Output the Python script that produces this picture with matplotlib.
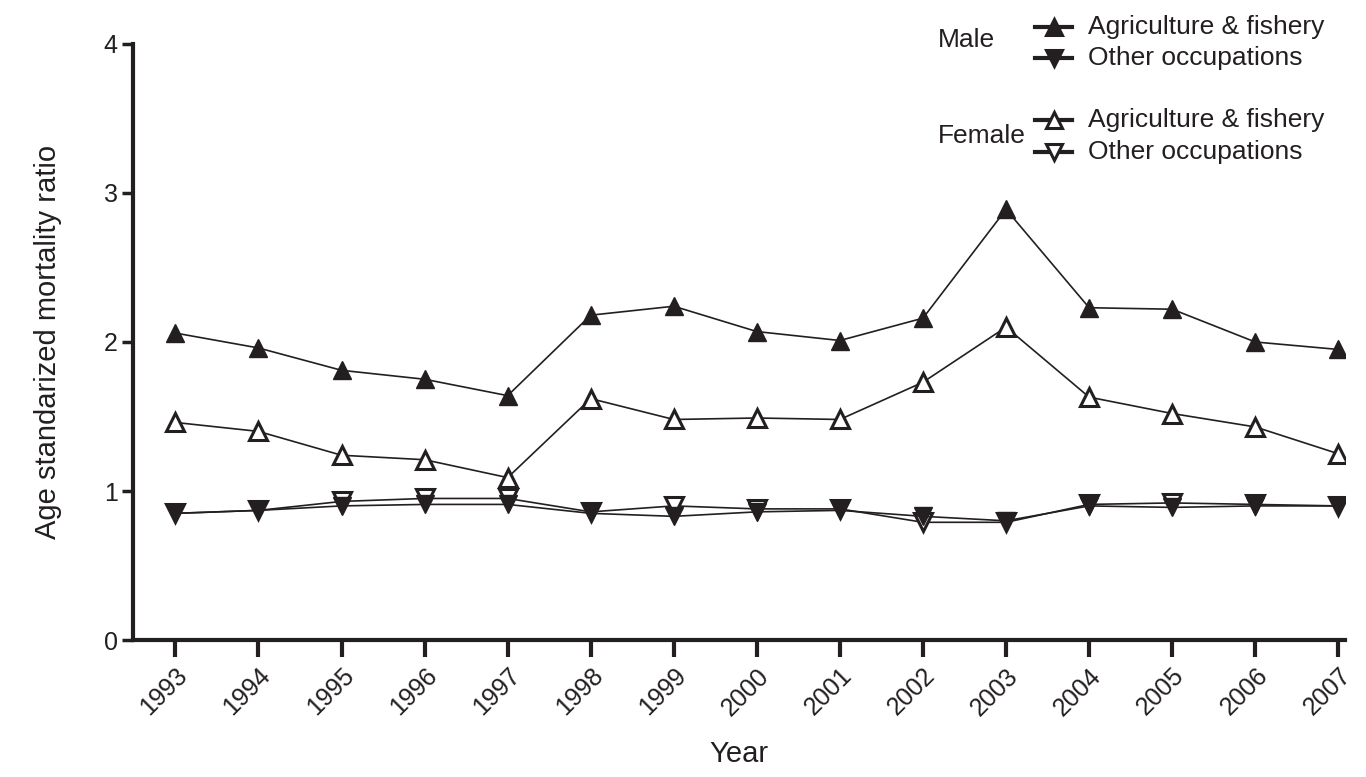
import matplotlib.pyplot as plt
from matplotlib.lines import Line2D

plt.rcParams['font.family'] = ['Liberation Sans', 'DejaVu Sans']

years = list(range(1993, 2008))
male_agri = [2.06, 1.96, 1.81, 1.75, 1.64, 2.18, 2.24, 2.07, 2.01, 2.16, 2.89, 2.23, 2.22, 2.00, 1.95]
male_other = [0.85, 0.87, 0.90, 0.91, 0.91, 0.85, 0.83, 0.86, 0.87, 0.83, 0.80, 0.90, 0.89, 0.90, 0.90]
female_agri = [1.46, 1.40, 1.24, 1.21, 1.09, 1.62, 1.48, 1.49, 1.48, 1.73, 2.10, 1.63, 1.52, 1.43, 1.25]
female_other = [0.85, 0.87, 0.93, 0.95, 0.95, 0.86, 0.90, 0.88, 0.88, 0.79, 0.79, 0.91, 0.92, 0.91, 0.90]

ink = "#231f20"

fig = plt.figure(figsize=(13.66, 7.77), dpi=100)
ax = fig.add_axes([0.0974, 0.1763, 0.8872, 0.7671])

ms = 13.5
ax.plot(years, female_other, color=ink, lw=1.2, marker="v", ms=ms, mfc="white", mec=ink, mew=2.2)
ax.plot(years, female_agri, color=ink, lw=1.2, marker="^", ms=ms, mfc="white", mec=ink, mew=2.2)
ax.plot(years, male_other, color=ink, lw=1.2, marker="v", ms=ms, mfc=ink, mec=ink)
ax.plot(years, male_agri, color=ink, lw=1.2, marker="^", ms=ms, mfc=ink, mec=ink)

ax.set_xlim(1992.49, 2007.08)
ax.set_ylim(0, 4)
ax.set_yticks([0, 1, 2, 3, 4])
ax.set_xticks(years)
ax.set_xticklabels([str(y) for y in years], rotation=45, ha="right", rotation_mode="anchor")
ax.tick_params(axis="both", labelsize=18, colors=ink, direction="out")
ax.tick_params(axis="y", width=2.5, length=8, pad=3)
ax.tick_params(axis="x", width=3, length=12, pad=5)
for s in ["top", "right"]:
    ax.spines[s].set_visible(False)
for s in ["left", "bottom"]:
    ax.spines[s].set_linewidth(3)
    ax.spines[s].set_color(ink)

ax.set_xlabel("Year", fontsize=21, color=ink, labelpad=14)
ax.set_ylabel("Age standarized mortality ratio", fontsize=21, color=ink, labelpad=30)

# legend drawn by hand in figure pixels
W, H = 1366, 777
def legend_row(y, marker, filled, label):
    yy = 1 - y / H
    fig.add_artist(Line2D([1035 / W, 1072 / W], [yy, yy], transform=fig.transFigure,
                          color=ink, lw=3))
    fig.add_artist(Line2D([1053.5 / W], [yy], transform=fig.transFigure, marker=marker,
                          ms=11, mfc=ink if filled else "white", mec=ink, mew=2.2, lw=0))
    fig.text(1088 / W, yy, label, fontsize=19, color=ink, va="center", ha="left")

fig.text(938 / W, 1 - 40 / H, "Male", fontsize=19, color=ink, va="center")
legend_row(27, "^", True, "Agriculture & fishery")
legend_row(58, "v", True, "Other occupations")
fig.text(938 / W, 1 - 136 / H, "Female", fontsize=19, color=ink, va="center")
legend_row(120, "^", False, "Agriculture & fishery")
legend_row(152, "v", False, "Other occupations")

fig.savefig("out.png", dpi=100)
